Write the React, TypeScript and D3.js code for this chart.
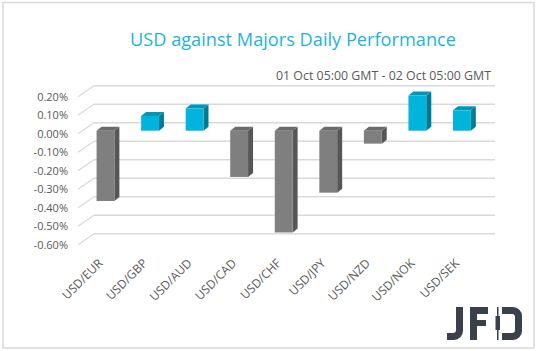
import { useEffect, useRef } from "react";
import * as d3 from "d3";

const pairs = [
  "USD/EUR",
  "USD/GBP",
  "USD/AUD",
  "USD/CAD",
  "USD/CHF",
  "USD/JPY",
  "USD/NZD",
  "USD/NOK",
  "USD/SEK",
];
const changes = [-0.38, 0.08, 0.12, -0.25, -0.55, -0.335, -0.07, 0.19, 0.11];
const yTicks = [0.2, 0.1, 0, -0.1, -0.2, -0.3, -0.4, -0.5, -0.6];

const title = "USD against Majors Daily Performance";
const subtitle = "01 Oct 05:00 GMT - 02 Oct 05:00 GMT";

const width = 538;
const height = 351;

export default function App() {
  const svgRef = useRef<SVGSVGElement>(null);

  useEffect(() => {
    if (!svgRef.current) return;
    const svg = d3.select(svgRef.current);
    svg.selectAll("*").remove();

    const font = "'Open Sans', sans-serif";

    // outer frame
    svg
      .append("rect")
      .attr("x", 3)
      .attr("y", 2.5)
      .attr("width", 531)
      .attr("height", 345.5)
      .attr("fill", "#fff")
      .attr("stroke", "#d9d9d9")
      .attr("stroke-width", 1.5);

    svg
      .append("text")
      .attr("x", 130)
      .attr("y", 46)
      .attr("textLength", 326)
      .attr("lengthAdjust", "spacingAndGlyphs")
      .attr("fill", "#1eb4d9")
      .style("font-family", font)
      .style("font-size", "19px")
      .text(title);

    svg
      .append("text")
      .attr("x", 276)
      .attr("y", 80)
      .attr("textLength", 215)
      .attr("lengthAdjust", "spacingAndGlyphs")
      .attr("fill", "#595959")
      .style("font-family", font)
      .style("font-size", "12.5px")
      .text(subtitle);

    // back wall scales
    const x = d3.scaleBand<string>().domain(pairs).range([94, 495]);
    const y = d3.scaleLinear().domain([-0.6, 0.2]).range([233.7, 85.7]);

    // depth offsets (oblique 3D)
    const floorDx = 16;
    const floorDy = -11;
    const frontDx = -10.8;
    const frontDy = 8;
    const barDx = 5;
    const barDy = -4;

    const grid = svg.append("g");
    yTicks.forEach((t) => {
      grid
        .append("line")
        .attr("x1", x.range()[0])
        .attr("x2", x.range()[1])
        .attr("y1", y(t))
        .attr("y2", y(t))
        .attr("stroke", "#d9d9d9")
        .attr("stroke-width", 1.5);
      grid
        .append("line")
        .attr("x1", x.range()[0] - floorDx)
        .attr("y1", y(t) - floorDy)
        .attr("x2", x.range()[0])
        .attr("y2", y(t))
        .attr("stroke", "#d9d9d9")
        .attr("stroke-width", 1.2);
      grid
        .append("text")
        .attr("x", 68)
        .attr("y", y(t) - floorDy)
        .attr("dy", "0.35em")
        .attr("text-anchor", "end")
        .attr("fill", "#595959")
        .style("font-family", font)
        .style("font-size", "11px")
        .text(`${t.toFixed(2)}%`);
    });

    const barW = x.bandwidth() / 2.5;
    const bars = svg.append("g");
    pairs.forEach((p, i) => {
      const v = changes[i];
      const pos = v >= 0;
      const cx = (x(p) as number) + x.bandwidth() / 2 + frontDx;
      const x0 = cx - barW / 2;
      const x1 = cx + barW / 2;
      const yt = y(Math.max(v, 0)) + frontDy;
      const yb = y(Math.min(v, 0)) + frontDy;
      const cFront = pos ? "#00b4dc" : "#7f7f7f";
      const cTop = pos ? "#0098b9" : "#6b6b6b";
      const cSide = pos ? "#007a92" : "#565656";

      bars
        .append("path")
        .attr(
          "d",
          `M${x1},${yt}L${x1 + barDx},${yt + barDy}L${x1 + barDx},${yb + barDy}L${x1},${yb}Z`
        )
        .attr("fill", cSide);
      bars
        .append("path")
        .attr(
          "d",
          `M${x0},${yt}L${x1},${yt}L${x1 + barDx},${yt + barDy}L${x0 + barDx},${yt + barDy}Z`
        )
        .attr("fill", cTop);
      bars
        .append("rect")
        .attr("x", x0)
        .attr("y", yt)
        .attr("width", barW)
        .attr("height", yb - yt)
        .attr("fill", cFront);

      svg
        .append("text")
        .attr("transform", `translate(${cx - 2},${264}) rotate(-45)`)
        .attr("text-anchor", "end")
        .attr("fill", "#595959")
        .style("font-family", font)
        .style("font-size", "12px")
        .text(p);
    });

    // JFD logo
    const logo = svg.append("g").attr("fill", "#3a414b");
    logo
      .append("path")
      .attr(
        "d",
        "M456,307h7v24a9,9 0 0 1 -9,9h-7v-7h6a3,3 0 0 0 3,-3z"
      );
    logo.append("rect").attr("x", 470).attr("y", 307).attr("width", 7).attr("height", 33);
    logo.append("rect").attr("x", 470).attr("y", 307).attr("width", 18).attr("height", 7);
    logo.append("rect").attr("x", 470).attr("y", 320).attr("width", 16).attr("height", 6);
    logo.append("rect").attr("x", 497).attr("y", 307).attr("width", 1.5).attr("height", 33);
    logo.append("rect").attr("x", 495.5).attr("y", 316).attr("width", 4.5).attr("height", 14);
    logo
      .append("path")
      .attr(
        "d",
        "M502,307h11a9,9 0 0 1 9,9v15a9,9 0 0 1 -9,9h-11v-7h10a3,3 0 0 0 3,-3v-13a3,3 0 0 0 -3,-3h-10z"
      );
  }, []);

  return (
    <svg
      ref={svgRef}
      width={width}
      height={height}
      style={{ position: "absolute", left: 0, top: 0 }}
    />
  );
}
